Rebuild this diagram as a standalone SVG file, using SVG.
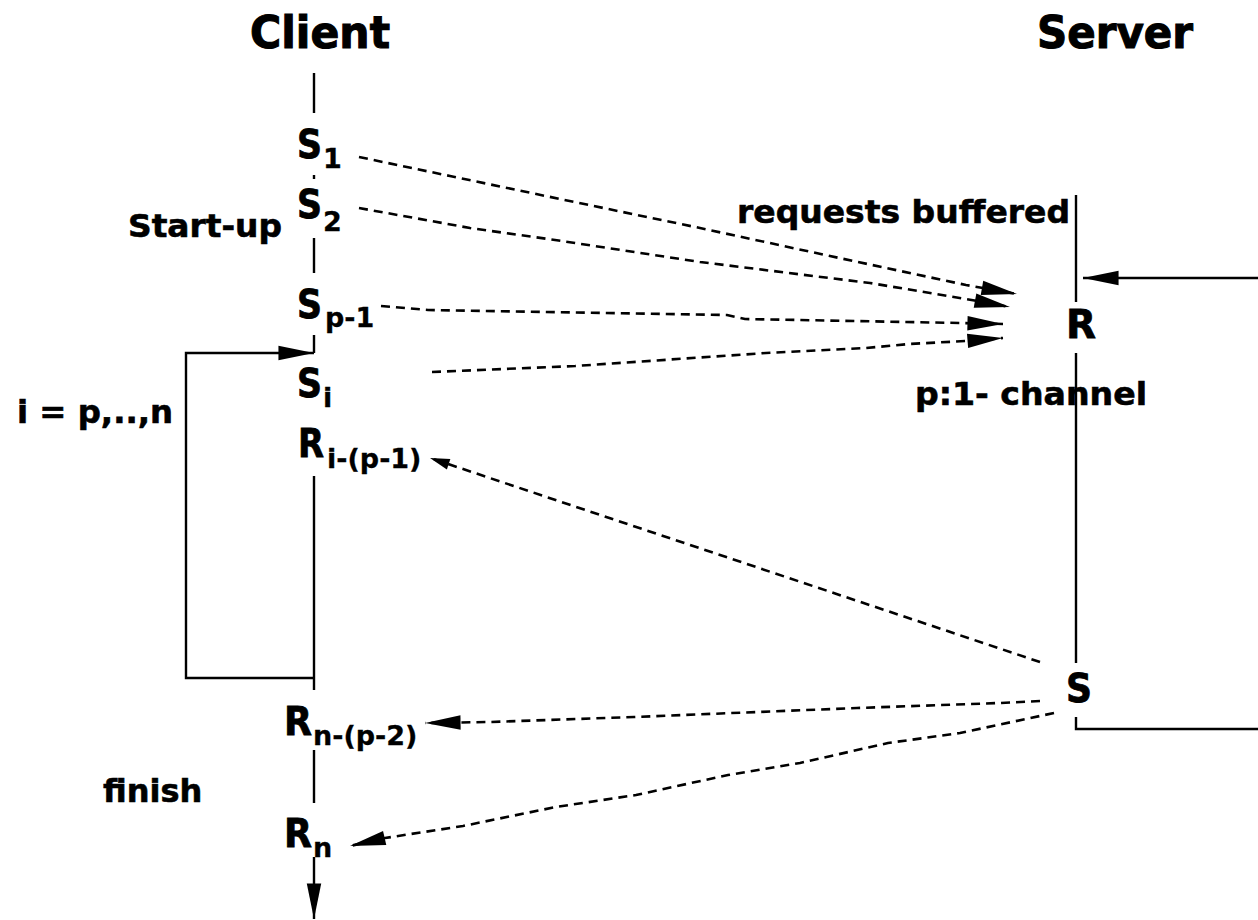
<svg xmlns="http://www.w3.org/2000/svg" width="1258" height="920" viewBox="0 0 1258 920">
<style>
text{font-family:"DejaVu Sans","Liberation Sans",sans-serif;font-weight:bold;fill:#000;stroke:#000;stroke-width:0.8}
.title{font-size:45px;stroke-width:1.1}
.lbl{font-size:39px}
.sub{font-size:27px;stroke-width:0.3}
.note{font-size:32px;stroke-width:0.6}
.solid{fill:none;stroke:#000;stroke-width:2.4}
.dash{fill:none;stroke:#000;stroke-width:2.6;stroke-dasharray:9 6}
</style>
<defs>
<marker id="ah" markerUnits="userSpaceOnUse" markerWidth="40" markerHeight="20" viewBox="-34 -8 36 16" refX="0" refY="0" orient="auto">
<path d="M0,0 L-32,-6.5 L-32,6.5 Z" fill="#000"/>
</marker>
<marker id="ahs" markerUnits="userSpaceOnUse" markerWidth="24" markerHeight="14" viewBox="-20 -6 22 12" refX="0" refY="0" orient="auto">
<path d="M0,0 L-18,-5 L-18,5 Z" fill="#000"/>
</marker>
</defs>
<rect width="1258" height="920" fill="#fff"/>

<g id="client-title"><text class="title" x="250" y="48" textLength="140" lengthAdjust="spacingAndGlyphs">Client</text></g>
<g id="server-title"><text class="title" x="1037" y="48" textLength="156" lengthAdjust="spacingAndGlyphs">Server</text></g>

<g id="client-lifeline">
<line class="solid" x1="314" y1="73" x2="314" y2="113"/>
<line class="solid" x1="314" y1="175" x2="314" y2="179"/>
<line class="solid" x1="314" y1="238" x2="314" y2="273"/>
<line class="solid" x1="314" y1="335" x2="314" y2="353"/>
<line class="solid" x1="314" y1="476" x2="314" y2="690"/>
<line class="solid" x1="314" y1="750" x2="314" y2="803"/>
<line class="solid" x1="314" y1="857" x2="314" y2="919" marker-end="url(#ah)"/>
</g>

<g id="loop">
<polyline class="solid" points="314,678 186,678 186,353 314,353" marker-end="url(#ah)"/>
<text class="note" x="17" y="423" textLength="156" lengthAdjust="spacingAndGlyphs">i = p,..,n</text>
</g>

<g id="startup-label"><text class="note" x="128" y="237" textLength="154" lengthAdjust="spacingAndGlyphs">Start-up</text></g>
<g id="finish-label"><text class="note" x="103" y="802">finish</text></g>

<g id="S1"><text class="lbl" x="297" y="158" textLength="25" lengthAdjust="spacingAndGlyphs">S</text><text class="sub" x="323" y="168">1</text></g>
<g id="S2"><text class="lbl" x="297" y="218" textLength="25" lengthAdjust="spacingAndGlyphs">S</text><text class="sub" x="323" y="231">2</text></g>
<g id="Sp-1"><text class="lbl" x="297" y="318" textLength="25" lengthAdjust="spacingAndGlyphs">S</text><text class="sub" x="325" y="327">p-1</text></g>
<g id="Si"><text class="lbl" x="297" y="397" textLength="25" lengthAdjust="spacingAndGlyphs">S</text><text class="sub" x="323" y="407">i</text></g>
<g id="Ri-p-1"><text class="lbl" x="298" y="457" textLength="26" lengthAdjust="spacingAndGlyphs">R</text><text class="sub" x="327" y="468">i-(p-1)</text></g>
<g id="Rn-p-2"><text class="lbl" x="284" y="735" textLength="28" lengthAdjust="spacingAndGlyphs">R</text><text class="sub" x="313" y="745">n-(p-2)</text></g>
<g id="Rn"><text class="lbl" x="284" y="847" textLength="28" lengthAdjust="spacingAndGlyphs">R</text><text class="sub" x="313" y="857">n</text></g>

<g id="server-lifeline">
<line class="solid" x1="1076" y1="195" x2="1076" y2="302"/>
<line class="solid" x1="1076" y1="353" x2="1076" y2="663"/>
<polyline class="solid" points="1076,717 1076,729 1258,729"/>
<line class="solid" x1="1258" y1="278" x2="1083" y2="278" marker-end="url(#ah)"/>
</g>

<g id="R"><text class="lbl" x="1066" y="338" textLength="30" lengthAdjust="spacingAndGlyphs">R</text></g>
<g id="S"><text class="lbl" x="1066" y="702" textLength="26" lengthAdjust="spacingAndGlyphs">S</text></g>
<g id="requests-label"><text class="note" x="737" y="223" font-size="33" textLength="333" lengthAdjust="spacingAndGlyphs">requests buffered</text></g>
<g id="channel-label"><text class="note" x="915" y="405" font-size="33" textLength="232" lengthAdjust="spacingAndGlyphs">p:1- channel</text></g>

<g id="connectors">
<polyline class="dash" points="359,157 450,176 560,199 700,228 830,256 966,285 1017,294" marker-end="url(#ah)"/>
<polyline class="dash" points="359,208 470,228 555,240 700,262 870,283 966,299 1010,307" marker-end="url(#ah)"/>
<polyline class="dash" points="381,306 428,310 727,315 745,319 960,323 1003,324" marker-end="url(#ah)"/>
<polyline class="dash" points="432,372 575,366 766,353 866,348 909,344 966,341 1003,338" marker-end="url(#ah)"/>
<polyline class="dash" points="1040,662 430,458" marker-end="url(#ahs)"/>
<polyline class="dash" points="1040,701 1000,703 857,708 634,717 490,722 425,723" marker-end="url(#ah)"/>
<polyline class="dash" points="1054,713 960,733 888,743 800,763 728,775 636,795 556,807 463,826 385,838 350,846" marker-end="url(#ah)"/>
</g>
</svg>
